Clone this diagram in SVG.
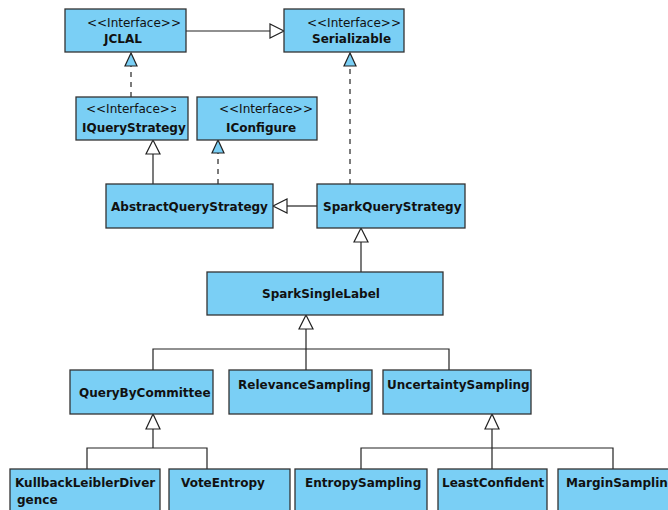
<svg xmlns="http://www.w3.org/2000/svg" width="668" height="510" viewBox="0 0 668 510">
<defs>
<style>
.box{fill:#7ACFF5;stroke:#333;stroke-width:1.3}
.st{font-family:"DejaVu Sans",sans-serif;font-size:12px;fill:#111}
.nm{font-family:"DejaVu Sans",sans-serif;font-size:12px;font-weight:bold;fill:#111}
.ln{fill:none;stroke:#222;stroke-width:1.2}
.dl{fill:none;stroke:#444;stroke-width:1.4;stroke-dasharray:5,5}
.gt{fill:#fff;stroke:#222;stroke-width:1.2}
.rt{fill:#7ACFF5;stroke:#222;stroke-width:1.2}
</style>
<clipPath id="cIQ"><rect x="76" y="97" width="100" height="43"/></clipPath>
</defs>
<rect width="668" height="510" fill="#fff"/>
<g id="connectors">
<path class="ln" d="M186 31H270"/>
<polygon class="gt" points="284,31 270,24 270,38"/>
<path class="dl" d="M131 97V66"/>
<polygon class="rt" points="131,53 125,66 137,66"/>
<path class="dl" d="M350 184V66"/>
<polygon class="rt" points="350,53 344,66 356,66"/>
<path class="ln" d="M153 184V154"/>
<polygon class="gt" points="153,140 146,154 160,154"/>
<path class="dl" d="M218 184V153"/>
<polygon class="rt" points="218,140 212,153 224,153"/>
<path class="ln" d="M317 206H287"/>
<polygon class="gt" points="273,206 287,199 287,213"/>
<path class="ln" d="M361 272V242"/>
<polygon class="gt" points="361,228 354,242 368,242"/>
<path class="ln" d="M306 329V370M153 370V349H449V370"/>
<polygon class="gt" points="306,315 299,329 313,329"/>
<path class="ln" d="M153 429V448M87 469V448H207V469"/>
<polygon class="gt" points="153,414 146,429 160,429"/>
<path class="ln" d="M492 429V469M361 469V448H613V469"/>
<polygon class="gt" points="492,414 485,429 499,429"/>
</g>
<g id="JCLAL"><rect class="box" x="65" y="9" width="121" height="43"/><text class="st" x="87" y="27">&lt;&lt;Interface&gt;&gt;</text><text class="nm" x="104" y="43">JCLAL</text></g>
<g id="Serializable"><rect class="box" x="284" y="9" width="120" height="43"/><text class="st" x="307" y="27">&lt;&lt;Interface&gt;&gt;</text><text class="nm" x="312" y="43">Serializable</text></g>
<g id="IQueryStrategy"><rect class="box" x="76" y="97" width="112" height="43"/><text class="st" x="86" y="113" clip-path="url(#cIQ)">&lt;&lt;Interface&gt;&gt;</text><text class="nm" x="82" y="132">IQueryStrategy</text></g>
<g id="IConfigure"><rect class="box" x="197" y="97" width="120" height="43"/><text class="st" x="219" y="113">&lt;&lt;Interface&gt;&gt;</text><text class="nm" x="226" y="132">IConfigure</text></g>
<g id="AbstractQueryStrategy"><rect class="box" x="106" y="184" width="167" height="44"/><text class="nm" x="111" y="211">AbstractQueryStrategy</text></g>
<g id="SparkQueryStrategy"><rect class="box" x="317" y="184" width="148" height="44"/><text class="nm" x="323" y="211">SparkQueryStrategy</text></g>
<g id="SparkSingleLabel"><rect class="box" x="207" y="272" width="236" height="43"/><text class="nm" x="262" y="298">SparkSingleLabel</text></g>
<g id="QueryByCommittee"><rect class="box" x="70" y="370" width="143" height="44"/><text class="nm" x="79" y="397">QueryByCommittee</text></g>
<g id="RelevanceSampling"><rect class="box" x="229" y="370" width="143" height="44"/><text class="nm" x="238" y="389">RelevanceSampling</text></g>
<g id="UncertaintySampling"><rect class="box" x="383" y="370" width="148" height="44"/><text class="nm" x="387" y="389">UncertaintySampling</text></g>
<g id="KullbackLeiblerDivergence"><rect class="box" x="10" y="469" width="150" height="50"/><text class="nm" x="15" y="487">KullbackLeiblerDiver</text><text class="nm" x="17" y="504">gence</text></g>
<g id="VoteEntropy"><rect class="box" x="169" y="469" width="121" height="50"/><text class="nm" x="181" y="487">VoteEntropy</text></g>
<g id="EntropySampling"><rect class="box" x="295" y="469" width="132" height="50"/><text class="nm" x="305" y="487">EntropySampling</text></g>
<g id="LeastConfident"><rect class="box" x="438" y="469" width="109" height="50"/><text class="nm" x="442" y="487">LeastConfident</text></g>
<g id="MarginSampling"><rect class="box" x="558" y="469" width="120" height="50"/><text class="nm" x="566" y="487">MarginSampling</text></g>
</svg>
